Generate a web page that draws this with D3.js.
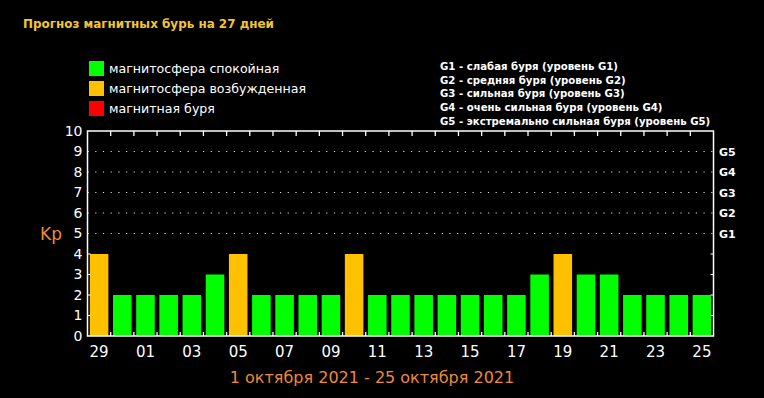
<!DOCTYPE html>
<html><head><meta charset="utf-8">
<script src="https://cdn.jsdelivr.net/npm/d3@7"></script>
<style>html,body{margin:0;padding:0;background:#000;}svg{display:block;}</style>
</head><body>
<script>
const days = ["29","30","01","02","03","04","05","06","07","08","09","10","11","12","13","14","15","16","17","18","19","20","21","22","23","24","25"];
const kpValues = [4,2,2,2,2,3,4,2,2,2,2,4,2,2,2,2,2,2,2,3,4,3,3,2,2,2,2];
const yTicks = [0,1,2,3,4,5,6,7,8,9,10];
const gridLevels = [5,6,7,8,9];
const gLabels = ["G1","G2","G3","G4","G5"];
const legendItems = ["магнитосфера спокойная","магнитосфера возбужденная","магнитная буря"];
const legendColors = ["#00ff00","#ffc000","#ff0000"];
const gLegend = ["G1 - слабая буря (уровень G1)","G2 - средняя буря (уровень G2)","G3 - сильная буря (уровень G3)","G4 - очень сильная буря (уровень G4)","G5 - экстремально сильная буря (уровень G5)"];
const title = "Прогноз магнитных бурь на 27 дней";
const dateRange = "1 октября 2021 - 25 октября 2021";

const W=764,H=398;
const svg=d3.select("body").append("svg").attr("width",W).attr("height",H).style("background","#000");
svg.append("rect").attr("width",W).attr("height",H).attr("fill","#000");

const L=87.5,R=713.5,T=131,B=336;
const x=d3.scaleBand().domain(days).range([L,R]).paddingInner(0.2).paddingOuter(0.1);
const xb=d3.scaleBand().domain(days).range([L,R]);
const y=d3.scaleLinear().domain([0,10]).range([B,T]);
const colorFor=v=> v>=5?legendColors[2]:(v>=4?legendColors[1]:legendColors[0]);

// title
svg.append("text").attr("x",23).attr("y",28).text(title)
 .attr("font-family","DejaVu Sans").attr("font-weight","bold").attr("font-size",12)
 .attr("fill","#f2c531").attr("textLength",251).attr("lengthAdjust","spacingAndGlyphs");

// legend
const lg=svg.append("g");
legendItems.forEach((t,i)=>{
  lg.append("rect").attr("x",89).attr("y",61+i*20).attr("width",15).attr("height",15).attr("fill",legendColors[i]);
  lg.append("text").attr("x",109).attr("y",68.5+i*20).attr("dy","0.35em").text(t)
   .attr("font-family","DejaVu Sans").attr("font-size",12.6).attr("fill","#fff");
});
gLegend.forEach((t,i)=>{
  svg.append("text").attr("x",440).attr("y",66+i*13.7).attr("dy","0.35em").text(t)
   .attr("font-family","DejaVu Sans Condensed, DejaVu Sans").attr("font-weight","bold").attr("font-size",11.3).attr("fill","#fff");
});

// grid
svg.append("g").selectAll("line").data(gridLevels).join("line")
 .attr("x1",L).attr("x2",R).attr("y1",d=>y(d)).attr("y2",d=>y(d))
 .attr("stroke","#ddd").attr("stroke-width",1.2).attr("stroke-dasharray","1.2,6.5");

// bars
svg.append("g").selectAll("rect").data(days).join("rect")
 .attr("x",d=>x(d)).attr("width",x.bandwidth())
 .attr("y",(d,i)=>y(kpValues[i])).attr("height",(d,i)=>B-y(kpValues[i]))
 .attr("fill",(d,i)=>colorFor(kpValues[i]));

// frame
svg.append("rect").attr("x",L).attr("y",T).attr("width",R-L).attr("height",B-T)
 .attr("fill","none").attr("stroke","#fff").attr("stroke-width",1.5);

// band boundary ticks
const bounds=days.slice(1).map(d=>xb(d));
svg.append("g").selectAll("line").data(bounds).join("line")
 .attr("x1",d=>d).attr("x2",d=>d).attr("y1",T).attr("y2",T+5).attr("stroke","#fff").attr("stroke-width",1.3);
svg.append("g").selectAll("line").data(bounds).join("line")
 .attr("x1",d=>d).attr("x2",d=>d).attr("y1",B).attr("y2",B-4).attr("stroke","#fff").attr("stroke-width",1.3);

// y ticks inside on both sides
const inner=[1,2,3,4];
svg.append("g").selectAll("line").data(inner).join("line")
 .attr("x1",L).attr("x2",L+3).attr("y1",d=>y(d)).attr("y2",d=>y(d)).attr("stroke","#fff");
svg.append("g").selectAll("line").data(inner).join("line")
 .attr("x1",R).attr("x2",R-3).attr("y1",d=>y(d)).attr("y2",d=>y(d)).attr("stroke","#fff");

// left axis labels
const yAxis=d3.axisLeft(y).tickValues(yTicks).tickSize(0).tickPadding(5);
const ya=svg.append("g").attr("transform",`translate(${L},0)`).call(yAxis);
ya.select(".domain").remove();
ya.selectAll("text").attr("fill","#fff").attr("font-family","DejaVu Sans").attr("font-size",14).attr("font-weight","normal");

// right G labels
svg.append("g").selectAll("text").data(gLabels).join("text")
 .attr("x",719).attr("y",(d,i)=>y(gridLevels[i])).attr("dy","0.38em").text(d=>d)
 .attr("font-family","DejaVu Sans").attr("font-weight","bold").attr("font-size",11).attr("fill","#fff");

// x labels
const xAxis=d3.axisBottom(x).tickValues(days.filter((d,i)=>i%2===0)).tickSize(0).tickPadding(10);
const xa=svg.append("g").attr("transform",`translate(0,${B})`).call(xAxis);
xa.select(".domain").remove();
xa.selectAll("text").attr("fill","#fff").attr("font-family","DejaVu Sans").attr("font-size",15);

// Kp
svg.append("text").attr("x",40).attr("y",234).attr("dy","0.35em").text("Kp")
 .attr("font-family","DejaVu Sans").attr("font-size",17).attr("fill","#ee8a3c");

// date range
svg.append("text").attr("x",372).attr("y",377).attr("dy","0.35em").attr("text-anchor","middle").text(dateRange)
 .attr("font-family","DejaVu Sans").attr("font-size",16).attr("fill","#ee8a3c");
</script>
</body></html>
